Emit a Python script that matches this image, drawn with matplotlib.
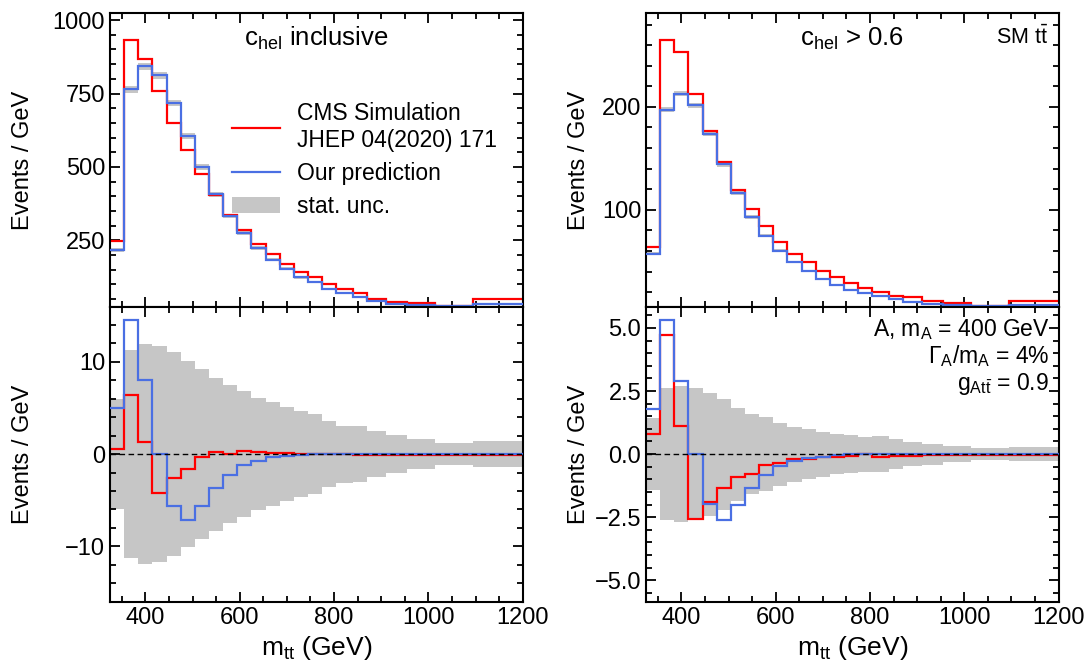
import matplotlib
matplotlib.use('Agg')
import matplotlib.pyplot as plt
from matplotlib.ticker import MultipleLocator
from matplotlib.lines import Line2D
from matplotlib.patches import Patch

plt.rcParams['font.family'] = ['Liberation Sans', 'DejaVu Sans']
plt.rcParams['mathtext.fontset'] = 'custom'
plt.rcParams['mathtext.rm'] = 'Liberation Sans'
plt.rcParams['mathtext.it'] = 'Liberation Sans:italic'
plt.rcParams['mathtext.bf'] = 'Liberation Sans:bold'
plt.rcParams['mathtext.sf'] = 'Liberation Sans'

# ---------------- data ----------------
edges = [325, 355, 385, 415, 445, 475, 505, 535, 565, 595, 625, 655, 685,
         715, 745, 775, 805, 840, 870, 910, 955, 1015, 1095, 1200]

# c_hel inclusive (Events / GeV)
incl_cms = [248, 932, 866, 758, 651, 557, 475, 403, 337, 284, 239, 205, 170,
            144, 125, 102, 85, 72, 51, 40, 36, 27, 49]
incl_ours = [218, 764, 843, 812, 718, 606, 500, 407, 333, 275, 225, 184, 153,
             125, 108, 85, 70, 59, 45, 35, 31, 27, 34]
incl_unc = [6.0, 11.3, 11.9, 11.7, 11.05, 10.1, 9.2, 8.3, 7.5, 6.8, 6.1, 5.6,
            5.1, 4.7, 4.3, 3.55, 3.1, 3.0, 2.5, 2.1, 1.6, 1.2, 1.4]
# signal (A) contribution, c_hel inclusive
incl_sig_cms = [0.55, 6.45, 1.27, -4.17, -2.6, -1.63, -0.33, 0.25, 0.04, 0.3,
                0.2, 0.1, 0.07, 0.03, 0.05, 0.02, 0.0, -0.1, -0.1, -0.05,
                -0.05, -0.1, -0.15]
incl_sig_ours = [5.0, 14.5, 8.0, 0.0, -5.58, -7.14, -5.58, -3.7, -2.25, -1.23,
                 -0.72, -0.36, -0.18, -0.07, -0.03, 0.0, 0.0, 0.0, 0.0, 0.0,
                 0.0, 0.0, 0.0]

# c_hel > 0.6 (Events / GeV)
cut_cms = [63.6, 264.9, 253.6, 212.7, 176.3, 146.8, 119.5, 100.3, 83.8, 68.8,
           57.1, 49.0, 40.9, 34.4, 28.9, 24.0, 20.5, 16.6, 15.0, 11.0, 9.1,
           6.8, 11.0]
cut_ours = [57.1, 197.4, 213.0, 201.6, 174.0, 144.2, 116.2, 92.9, 75.0, 60.4,
            49.0, 40.3, 32.8, 27.3, 22.4, 19.2, 15.9, 13.3, 10.7, 8.4, 7.5,
            6.8, 7.5]
cut_unc = [1.42, 2.61, 2.70, 2.61, 2.44, 2.2, 1.84, 1.59, 1.46, 1.25, 1.09,
           0.98, 0.89, 0.78, 0.75, 0.69, 0.72, 0.58, 0.49, 0.42, 0.33, 0.23,
           0.29]
cut_sig_cms = [0.78, 4.73, 1.11, -2.57, -1.89, -1.36, -0.9, -0.77, -0.44,
               -0.37, -0.21, -0.21, -0.1, -0.1, -0.08, 0.0, -0.1, -0.07, -0.07,
               -0.04, -0.05, -0.05, -0.05]
cut_sig_ours = [1.8, 5.3, 2.9, 0.0, -1.96, -2.6, -2.03, -1.36, -0.81, -0.46,
                -0.28, -0.17, -0.1, -0.05, 0.0, 0.0, 0.0, 0.0, 0.0, 0.0, 0.0,
                0.0, 0.0]

RED = '#ff0000'
BLUE = '#4a6fe3'
GREY = '#c6c6c6'
FS = 17

fig = plt.figure(figsize=(10.89, 6.68), dpi=100)
W, H = 1089.0, 668.0
def axes_px(x0, y0, x1, y1):
    return fig.add_axes([x0 / W, 1 - y1 / H, (x1 - x0) / W, (y1 - y0) / H])

ax_tl = axes_px(110, 13.3, 522.7, 306.5)
ax_bl = axes_px(110, 306.5, 522.7, 601.7)
ax_tr = axes_px(646, 13.3, 1058.5, 306.5)
ax_br = axes_px(646, 306.5, 1058.5, 601.7)


def style(ax, ymaj, ymin, bottom_labels):
    ax.set_xlim(325, 1200)
    ax.xaxis.set_major_locator(MultipleLocator(200))
    ax.xaxis.set_minor_locator(MultipleLocator(50))
    ax.yaxis.set_major_locator(MultipleLocator(ymaj))
    ax.yaxis.set_minor_locator(MultipleLocator(ymin))
    ax.tick_params(which='both', direction='in', top=True, right=True,
                   labelsize=FS, width=1.3)
    ax.tick_params(which='major', length=7)
    ax.tick_params(which='minor', length=4)
    if not bottom_labels:
        ax.tick_params(labelbottom=False)
    for s in ax.spines.values():
        s.set_linewidth(1.5)
    ax.set_ylabel('Events / GeV', fontsize=FS)


def top_panel(ax, cms, ours, unc):
    lo = [o - u for o, u in zip(ours, unc)]
    hi = [o + u for o, u in zip(ours, unc)]
    ax.stairs(hi, edges, baseline=lo, fill=True, color=GREY, lw=0, zorder=1)
    ax.stairs(cms, edges, baseline=None, color=RED, lw=1.6, zorder=2)
    ax.stairs(ours, edges, baseline=None, color=BLUE, lw=1.6, zorder=3)


def bottom_panel(ax, cms, ours, unc):
    ax.stairs(unc, edges, baseline=[-u for u in unc], fill=True, color=GREY,
              lw=0, zorder=1)
    ax.stairs(cms, edges, baseline=None, color=RED, lw=1.6, zorder=2)
    ax.stairs(ours, edges, baseline=None, color=BLUE, lw=1.6, zorder=3)
    ax.axhline(0, color='black', ls='--', lw=1.0, dashes=(4, 2.5), zorder=4)
    ax.set_xlabel(r'$\mathrm{m_{tt}}$ (GeV)', fontsize=19)


top_panel(ax_tl, incl_cms, incl_ours, incl_unc)
bottom_panel(ax_bl, incl_sig_cms, incl_sig_ours, incl_unc)
top_panel(ax_tr, cut_cms, cut_ours, cut_unc)
bottom_panel(ax_br, cut_sig_cms, cut_sig_ours, cut_unc)

ax_tl.set_ylim(25, 1023)
ax_bl.set_ylim(-16, 16)
ax_tr.set_ylim(6, 291)
ax_br.set_ylim(-5.85, 5.85)

style(ax_tl, 250, 50, False)
style(ax_bl, 10, 2, True)
style(ax_tr, 100, 20, False)
style(ax_br, 2.5, 0.5, True)

for ax in (ax_tl, ax_bl):
    ax.yaxis.set_label_coords(-0.183, 0.5)
for ax in (ax_tr, ax_br):
    ax.yaxis.set_label_coords(-0.135, 0.5)

# texts
ax_tl.text(0.5, 0.888, r'$\mathrm{c_{hel}}$ inclusive', transform=ax_tl.transAxes,
           ha='center', va='baseline', fontsize=18.5)
ax_tr.text(0.5, 0.888, r'$\mathrm{c_{hel}}$ > 0.6', transform=ax_tr.transAxes,
           ha='center', va='baseline', fontsize=18.5)
ax_tr.text(0.975, 0.896, r'SM $\mathrm{t\bar{t}}$', transform=ax_tr.transAxes,
           ha='right', va='baseline', fontsize=15.5)

ax_br.text(0.978, 0.9, r'A, $\mathrm{m_A}$ = 400 GeV', transform=ax_br.transAxes,
           ha='right', va='baseline', fontsize=16.5)
ax_br.text(0.978, 0.808, r'$\mathrm{\Gamma_A/m_A}$ = 4%', transform=ax_br.transAxes,
           ha='right', va='baseline', fontsize=16.5)
ax_br.text(0.978, 0.717, r'$\mathrm{g_{At\bar{t}}}$ = 0.9', transform=ax_br.transAxes,
           ha='right', va='baseline', fontsize=16.5)

handles = [Line2D([], [], color=RED, lw=1.6),
           Line2D([], [], color=BLUE, lw=1.6),
           Patch(facecolor=GREY, edgecolor='none')]
labels = ['CMS Simulation\nJHEP 04(2020) 171', 'Our prediction', 'stat. unc.']
ax_tl.legend(handles, labels, loc='upper left', bbox_to_anchor=(0.295, 0.697),
             frameon=False, fontsize=16.5, handlelength=2.1, handletextpad=0.75,
             labelspacing=0.45, borderpad=0, borderaxespad=0)

fig.savefig('out.png', dpi=100)
